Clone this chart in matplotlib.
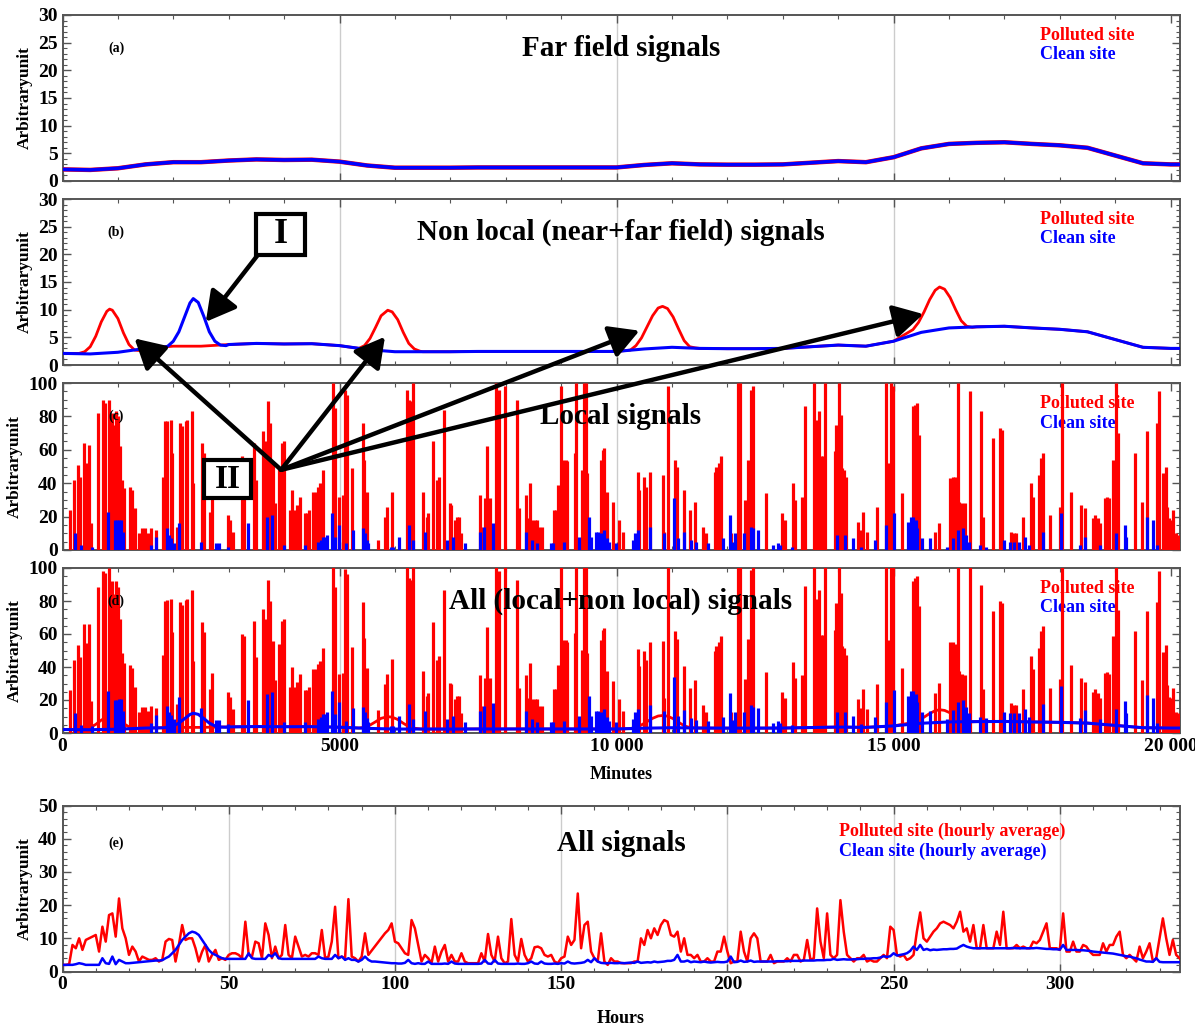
import numpy as np
import matplotlib
matplotlib.use('Agg')
import matplotlib.pyplot as plt
from matplotlib.ticker import MultipleLocator, FuncFormatter
from matplotlib.patches import Rectangle

plt.rcParams['font.family'] = ['Liberation Serif', 'DejaVu Serif']
plt.rcParams['font.weight'] = 'bold'

RED = '#ff0000'
BLUE = '#0000ff'

# ---------------- far field signal (minutes) ----------------
far_min = [0, 500, 1000, 1500, 2000, 2500, 3000, 3500, 4000, 4500, 5000, 5500, 6000,
           6500, 7000, 7500, 8000, 8500, 9000, 9500, 10000, 10500, 11000, 11500, 12000,
           12500, 13000, 13500, 14000, 14500, 15000, 15500, 16000, 16500, 17000, 17500,
           18000, 18500, 19000, 19500, 20000, 20160]
far_val = [2.1, 2.0, 2.3, 3.0, 3.4, 3.4, 3.7, 3.9, 3.8, 3.85, 3.5, 2.8, 2.4,
           2.4, 2.4, 2.45, 2.45, 2.45, 2.45, 2.45, 2.45, 2.9, 3.2, 3.0, 2.95,
           2.95, 3.0, 3.3, 3.6, 3.4, 4.3, 5.9, 6.7, 6.9, 7.0, 6.7,
           6.45, 6.0, 4.6, 3.2, 3.0, 3.0]

# ---------------- near field bumps (total values) ----------------
red_bump1_min = [300, 400, 500, 600, 700, 800, 850, 900, 1000, 1100, 1200, 1300, 1400]
red_bump1_val = [2.1, 2.4, 3.3, 5.2, 7.8, 9.7, 10.1, 9.9, 8.4, 5.8, 3.7, 2.7, 2.6]
red_bump2_min = [5350, 5450, 5550, 5650, 5750, 5870, 5950, 6050, 6150, 6250, 6350, 6450]
red_bump2_val = [3.0, 3.5, 4.8, 6.8, 8.9, 9.9, 9.6, 8.2, 5.9, 3.9, 2.9, 2.5]
red_bump3_min = [10250, 10350, 10450, 10550, 10650, 10750, 10830, 10920, 11020, 11120, 11220, 11320, 11420]
red_bump3_val = [2.7, 3.5, 4.9, 6.9, 8.9, 10.3, 10.6, 10.2, 8.7, 6.5, 4.4, 3.3, 3.1]
red_bump4_min = [15250, 15350, 15450, 15550, 15650, 15750, 15830, 15920, 16020, 16120, 16220, 16320, 16420]
red_bump4_val = [5.8, 6.4, 7.7, 9.6, 11.8, 13.5, 14.1, 13.7, 12.2, 10.0, 8.0, 7.0, 6.8]
blue_bump_min = [1800, 1900, 2000, 2100, 2200, 2300, 2360, 2450, 2550, 2650, 2750, 2850, 2950]
blue_bump_val = [3.1, 3.4, 4.3, 6.0, 8.6, 11.2, 12.0, 11.3, 8.8, 6.0, 4.3, 3.6, 3.5]

# ---------------- local spikes ----------------
red_spike_min = [
    139, 199, 278, 320, 381, 423, 483, 514, 640, 725, 761, 834, 894, 925, 967, 1003, 1046,
    1076, 1106, 1227, 1257, 1305, 1378, 1438, 1487, 1547, 1590, 1680,
    1813, 1849, 1891, 1952, 1982, 2073, 2115, 2151, 2224, 2254, 2333, 2363,
    2526, 2556, 2659, 2707, 2979, 3022, 3070, 3239, 3282, 3463, 3493,
    3626, 3656, 3717, 3747, 3795, 3844, 3916, 3964, 3994,
    4097, 4139, 4188, 4230, 4279, 4369, 4411, 4448, 4520, 4569, 4611, 4653, 4701,
    4883, 4913, 4992, 5064, 5107, 5137, 5234, 5415, 5439, 5500, 5699, 5820, 5850, 5941,
    6213, 6261, 6286, 6322, 6514, 6575, 6605,
    6684, 6757, 6787, 6890, 6986, 7017, 7089, 7119, 7155, 7192,
    7530, 7554, 7633, 7663, 7711, 7832, 7874, 7995, 8206, 8237,
    8357, 8400, 8436, 8478, 8520, 8569, 8599, 8659,
    8871, 8901, 8949, 9004, 9040, 9082, 9112, 9245, 9275,
    9384, 9414, 9445, 9475, 9716, 9747, 9777, 9825, 9928, 10049, 10109,
    10381, 10411, 10502, 10532, 10610, 10834, 10864, 10924, 11063, 11094,
    11226, 11317, 11408, 11559, 11619, 11770, 11800, 11843, 11891, 12060,
    12193, 12223, 12314, 12374, 12404, 12434, 12465, 12706, 12978, 13038,
    13189, 13219, 13345, 13400,
    13555, 13586, 13598, 13646, 13694, 13718, 13767,
    13936, 13966, 13996, 14020, 14051, 14069, 14099, 14147,
    14359, 14401, 14449, 14522, 14703, 14866, 14902, 14945, 14987, 15144,
    15349, 15386, 15428, 15458, 15748, 15820,
    16020, 16074, 16110, 16165, 16183, 16231, 16285, 16382, 16575, 16606,
    16787, 16926, 16956, 17119, 17167, 17210, 17330,
    17487, 17524, 17632, 17663, 17705, 17814, 17995, 18031, 18206,
    18375, 18460, 18599, 18641, 18689, 18732, 18810, 18859, 18889,
    18961, 19022, 19058, 19354, 19475, 19565, 19758, 19795,
    19867, 19909, 19927, 19964, 20000, 20048, 20097, 20127]
red_spike_val = [
    24, 42, 51, 44, 64, 52, 63, 16, 82, 90, 88, 90, 82, 75, 83, 80, 62,
    42, 37, 38, 36, 25, 10, 13, 13, 10, 13, 12,
    44, 77, 77, 78, 58, 14, 76, 74, 77, 78, 83, 40,
    64, 58, 23, 33, 21, 18, 11, 56, 55, 64, 42,
    71, 65, 89, 76, 52, 28, 50, 64, 65,
    24, 36, 24, 27, 32, 22, 22, 24, 35, 35, 38, 40, 48,
    100, 85, 32, 33, 96, 93, 49, 76, 54, 35, 6, 20, 26, 35,
    96, 90, 89, 100, 35, 20, 22,
    65, 42, 44, 84, 28, 27, 18, 20, 20, 10,
    33, 14, 31, 62, 31, 100, 96, 98, 90, 25,
    33, 19, 40, 18, 18, 18, 14, 14,
    24, 24, 39, 98, 54, 54, 53, 58, 100,
    48, 100, 100, 46, 54, 60, 61, 35, 29, 18, 11,
    47, 36, 44, 38, 47, 45, 11, 98, 54, 50,
    36, 24, 29, 14, 10, 47, 50, 52, 56, 10,
    100, 100, 30, 54, 44, 96, 98, 34, 22, 18,
    40, 30, 32, 86,
    100, 52, 78, 83, 56, 56, 100,
    59, 75, 61, 100, 81, 49, 48, 44,
    17, 12, 23, 11, 26, 100, 52, 100, 98, 34,
    86, 87, 88, 69, 11, 16,
    43, 44, 44, 100, 29, 28, 28, 95, 83, 20,
    67, 73, 72, 11, 10, 10, 20,
    40, 32, 45, 55, 58, 21, 26, 100, 35,
    27, 25, 19, 21, 19, 16, 31, 32, 31,
    54, 100, 70, 58, 29, 71, 76, 95,
    46, 50, 26, 19, 18, 24, 10, 9]

blue_spike_min = [
    230, 330, 540, 822, 950, 975, 1022, 1052, 1094,
    1590, 1680, 1891, 1921, 1952, 2012, 2097, 2496, 2768, 2816, 2979,
    3354, 3699, 3777, 4000, 4369, 4611, 4659, 4701, 4731, 4774,
    4871, 4913, 4992, 5125, 5252, 5427, 5457, 5487, 5518, 5923, 5971, 6080, 6250, 6334, 6546,
    6938, 7047, 7270, 7530, 7602, 7772, 8357, 8478, 8569, 8810, 8859, 9052, 9324,
    9505, 9535, 9626, 9668, 9716, 9777, 9825, 9867, 9988, 10290, 10333, 10381, 10610,
    10864, 11045, 11105, 11214, 11347, 11426, 11650, 11921, 12042, 12102, 12145,
    12302, 12422, 12465, 12555, 12827, 12918, 12948, 13159,
    13978, 14117, 14262, 14419, 14661, 14866, 15005, 15265, 15307, 15349, 15398, 15428,
    15506, 15657, 15971, 16074, 16165, 16255, 16304, 16352, 16557, 16666,
    16986, 17101, 17180, 17270, 17379, 17439, 17705, 18025, 18357, 18460, 18732,
    19010, 19173, 19191, 19577, 19674, 19746]
blue_spike_val = [
    10, 3, 2, 23, 18, 18, 18, 18, 11,
    3, 8, 13, 9, 7, 4, 16, 5, 4, 4, 2,
    16, 20, 21, 3, 3, 5, 6, 8, 8, 9,
    22, 8, 15, 4, 12, 13, 10, 6, 4, 2, 2, 8, 15, 6, 11,
    6, 8, 4, 11, 14, 16, 11, 6, 4, 4, 4, 5, 8,
    20, 8, 11, 11, 10, 12, 7, 5, 4, 6, 10, 12, 14,
    10, 31, 7, 11, 6, 5, 4, 7, 21, 5, 10,
    10, 14, 13, 12, 3, 4, 3, 2,
    9, 9, 7, 2, 6, 15, 22, 17, 20, 20, 18, 13,
    7, 7, 2, 7, 12, 13, 9, 5, 3, 2,
    6, 5, 5, 5, 8, 3, 11, 22, 3, 8, 3,
    10, 15, 8, 20, 18, 3]

# ---------------- hourly averages ----------------
red_hourly = [
    2.0, 2.0, 2.2, 8.0, 7.0, 10.0, 6.5, 9.5, 10.0, 10.5, 11.0,
    6.0, 13.5, 9.0, 17.0, 17.5, 10.5, 22.0, 13.0, 10.0, 5.0,
    7.5, 6.0, 3.0, 4.5, 4.0, 3.5, 3.5, 4.0, 3.0, 3.5,
    9.0, 9.8, 9.5, 3.0, 8.0, 14.0, 9.5, 10.0, 10.0, 7.0,
    3.0, 6.0, 8.0, 3.0, 5.0, 6.5, 3.5, 4.0, 3.5, 5.0,
    5.5, 5.5, 5.0, 4.0, 15.0, 5.0, 4.5, 9.0, 8.5, 4.0,
    14.5, 11.0, 4.0, 7.5, 4.0, 5.0, 14.0, 5.0, 4.0, 10.5,
    7.5, 4.5, 5.0, 4.5, 5.5, 5.5, 5.0, 12.5, 4.0, 4.5,
    9.0, 19.5, 4.0, 4.5, 4.0, 21.8, 4.5, 4.0, 3.0, 4.5,
    11.5, 5.0, 6.3, 7.6, 8.9, 10.2, 11.5, 12.5, 14.5, 9.0,
    8.5, 7.0, 5.5, 5.0, 15.5, 13.0, 8.0, 3.0, 5.0, 4.0,
    2.5, 7.5, 3.0, 6.0, 8.0, 3.0, 5.0, 3.0, 3.0, 5.5,
    3.0, 2.5, 2.5, 2.5, 2.5, 5.5, 3.0, 11.3, 5.0, 3.0,
    10.5, 4.0, 2.5, 3.0, 15.8, 5.0, 3.0, 9.8, 5.0, 3.0,
    4.0, 7.3, 7.5, 7.0, 5.0, 4.5, 5.0, 3.0, 2.5, 4.0,
    4.5, 10.5, 8.0, 9.5, 23.5, 7.0, 14.0, 15.0, 6.0, 4.0,
    3.0, 11.5, 3.0, 2.0, 4.0, 3.0, 3.0, 2.5, 2.5, 2.5,
    2.5, 3.0, 3.0, 10.0, 8.0, 12.5, 10.0, 13.0, 11.0, 14.0,
    15.5, 15.0, 11.0, 10.5, 12.0, 6.0, 10.0, 5.0, 5.0, 4.0,
    5.0, 3.0, 3.0, 4.0, 3.0, 3.0, 6.0, 6.0, 10.5, 6.0,
    2.5, 3.0, 3.0, 12.0, 6.0, 3.0, 10.0, 11.5, 10.0, 3.0,
    3.0, 3.0, 5.0, 2.5, 3.0, 3.0, 3.0, 4.0, 3.0, 5.0,
    5.0, 3.0, 3.5, 9.5, 3.5, 4.0, 19.0, 9.0, 4.0, 17.5,
    5.0, 4.0, 5.0, 21.5, 12.0, 5.0, 4.0, 3.0, 4.0, 4.0,
    5.0, 3.0, 3.5, 3.0, 3.0, 4.0, 5.0, 4.0, 13.5, 12.5,
    5.0, 4.5, 5.0, 3.5, 4.0, 5.0, 12.0, 17.8, 10.0, 9.0,
    10.5, 12.0, 13.0, 14.5, 15.0, 14.5, 14.0, 13.0, 15.0, 18.0,
    12.0, 13.0, 9.0, 14.0, 7.0, 7.0, 14.0, 7.0, 7.0, 7.0,
    12.0, 8.0, 18.0, 7.0, 7.0, 7.0, 8.0, 7.0, 7.5, 7.0,
    7.0, 9.0, 8.5, 9.5, 12.0, 14.5, 7.0, 7.0, 7.0, 6.5,
    17.5, 6.0, 6.0, 9.0, 6.0, 6.0, 8.0, 7.5, 6.0, 5.0,
    5.0, 5.0, 8.5, 6.0, 8.0, 8.0, 10.5, 12.0, 5.0, 4.0,
    5.0, 4.0, 3.0, 7.5, 4.0, 6.0, 8.5, 3.0, 4.0, 10.0,
    16.0, 10.0, 5.0, 9.5, 5.0, 4.0]
blue_hourly = [
    2.0, 2.0, 2.0, 2.0, 2.2, 2.5, 2.3, 2.0, 2.0, 2.0, 2.0,
    2.0, 4.0, 2.5, 2.3, 4.5, 2.2, 3.5, 3.0, 2.5, 2.5,
    2.6, 2.7, 2.8, 2.9, 3.0, 3.1, 3.2, 3.3, 3.3, 3.4,
    4.0, 4.5, 5.5, 6.5, 8.0, 9.5, 10.5, 11.5, 12.0, 11.7,
    11.0, 9.5, 8.0, 6.5, 5.5, 5.0, 4.5, 4.0, 3.8, 3.8,
    3.8, 3.8, 3.8, 3.8, 3.8, 5.5, 4.0, 3.8, 3.8, 3.8,
    3.8, 5.0, 4.5, 5.5, 4.0, 3.8, 3.8, 3.8, 3.8, 3.8,
    3.8, 3.8, 3.8, 3.8, 3.8, 3.8, 4.5, 4.0, 3.8, 3.8,
    3.8, 5.0, 4.0, 4.5, 3.5, 4.0, 3.5, 3.5, 3.0, 3.5,
    4.5, 3.5, 3.0, 3.0, 2.9, 2.8, 2.7, 2.6, 2.5, 2.5,
    2.4, 2.4, 2.6, 3.5, 2.5, 2.3, 2.5, 2.3, 2.3, 3.0,
    2.3, 2.3, 2.3, 2.3, 2.4, 2.3, 3.0, 2.4, 2.3, 2.3,
    2.3, 2.3, 2.3, 2.3, 2.3, 2.4, 3.5, 2.4, 2.3, 3.5,
    2.4, 2.3, 2.3, 2.3, 2.3, 2.3, 2.4, 2.3, 2.3, 2.5,
    3.0, 2.4, 2.3, 3.0, 2.4, 2.3, 2.3, 2.4, 2.3, 2.5,
    2.4, 3.0, 2.5, 2.4, 2.5, 2.6, 2.8, 3.5, 2.8, 4.0,
    3.0, 2.6, 2.5, 2.5, 2.6, 2.5, 2.5, 2.6, 2.5, 2.6,
    2.7, 2.6, 3.0, 2.6, 2.7, 2.8, 2.7, 3.0, 2.8, 2.9,
    3.0, 3.2, 3.2, 3.5, 5.0, 3.0, 3.0, 3.3, 2.8, 3.0,
    2.9, 2.8, 3.0, 2.8, 2.7, 2.8, 2.9, 2.8, 2.8, 3.0,
    4.5, 2.8, 2.9, 3.3, 2.9, 3.0, 3.3, 2.9, 3.0, 3.0,
    3.0, 3.0, 3.0, 3.0, 3.1, 3.1, 3.1, 3.1, 3.2, 3.2,
    3.2, 3.2, 3.3, 3.3, 3.3, 3.3, 3.4, 3.4, 3.4, 3.5,
    3.5, 3.8, 3.5, 3.6, 3.7, 3.6, 3.6, 3.7, 3.7, 3.8,
    3.8, 3.9, 3.9, 4.0, 4.0, 4.2, 4.6, 4.4, 4.6, 5.5,
    4.8, 5.0, 5.2, 5.5, 6.2, 7.5, 6.5, 8.0, 6.5, 6.8,
    6.4, 6.6, 6.5, 6.6, 6.7, 6.7, 6.8, 6.8, 6.9, 7.5,
    8.0, 7.5, 7.2, 7.0, 7.0, 7.0, 7.0, 7.0, 7.0, 7.0,
    7.0, 7.0, 7.0, 7.0, 7.0, 7.1, 7.0, 7.0, 7.0, 7.0,
    7.0, 7.0, 7.1, 7.0, 6.9, 6.8, 6.8, 6.7, 6.7, 6.6,
    8.0, 6.5, 6.5, 6.5, 6.5, 6.4, 6.4, 6.3, 6.2, 6.0,
    5.9, 5.8, 5.7, 5.6, 5.5, 5.4, 5.2, 5.0, 4.8, 4.6,
    4.5, 4.2, 4.0, 3.6, 3.3, 3.0, 3.0, 2.9, 4.0, 2.9,
    2.8, 2.8, 2.8, 2.8, 2.8, 2.8]
hours = np.arange(len(red_hourly))


def merge(base_x, base_y, segments):
    pts = list(zip(base_x, base_y))
    for sx, sy in segments:
        pts = [p for p in pts if p[0] < sx[0] or p[0] > sx[-1]] + list(zip(sx, sy))
        pts.sort()
    return np.array([p[0] for p in pts], float), np.array([p[1] for p in pts], float)


red_b_x, red_b_y = merge(far_min, far_val, [(red_bump1_min, red_bump1_val), (red_bump2_min, red_bump2_val),
                                            (red_bump3_min, red_bump3_val), (red_bump4_min, red_bump4_val)])
blue_b_x, blue_b_y = merge(far_min, far_val, [(blue_bump_min, blue_bump_val)])

# ---------------- figure ----------------
W_PX, H_PX = 1195, 1025
fig = plt.figure(figsize=(W_PX / 100, H_PX / 100), dpi=100)
LEFT, RIGHT = 62.5, 1179.5


def add_ax(top, bottom):
    return fig.add_axes([LEFT / W_PX, 1 - bottom / H_PX, (RIGHT - LEFT) / W_PX, (bottom - top) / H_PX])


def fmt_min(v, pos):
    v = int(round(v))
    return f'{v:,}'.replace(',', ' ') if v >= 10000 else str(v)


def style(ax, xmaj, xmin, ymaj, ymin, xlim, ylim, labels_x, grid):
    ax.set_xlim(*xlim)
    ax.set_ylim(*ylim)
    ax.xaxis.set_major_locator(MultipleLocator(xmaj))
    ax.xaxis.set_minor_locator(MultipleLocator(xmin))
    ax.yaxis.set_major_locator(MultipleLocator(ymaj))
    ax.yaxis.set_minor_locator(MultipleLocator(ymin))
    ax.tick_params(which='both', direction='in', top=True, right=True, colors='#555555',
                   labelcolor='black', labelsize=14)
    ax.tick_params(which='major', length=6, width=1.0)
    ax.tick_params(which='minor', length=3, width=0.8)
    for s in ax.spines.values():
        s.set_color('#555555')
        s.set_linewidth(1.4)
    if not labels_x:
        ax.tick_params(labelbottom=False)
    for g in grid:
        ax.axvline(g, color='#cccccc', lw=1.0, zorder=0)
    ax.set_ylabel('Arbitraryunit', fontsize=12.5, fontweight='bold', labelpad=4)


def texts(ax, tag, title, ty, leg_x=0.875, leg_y=(0.875, 0.76), legs=('Polluted site', 'Clean site'), legsize=13):
    ax.text(0.048, ty, tag, transform=ax.transAxes, fontsize=10, ha='center', va='center', zorder=30)
    ax.text(0.5, ty, title, transform=ax.transAxes, fontsize=21, ha='center', va='center', zorder=30)
    ax.text(leg_x, leg_y[0], legs[0], transform=ax.transAxes, fontsize=legsize, color=RED,
            ha='left', va='center', zorder=1)
    ax.text(leg_x, leg_y[1], legs[1], transform=ax.transAxes, fontsize=legsize, color=BLUE,
            ha='left', va='center', zorder=1)


grid_min = [5000, 10000, 15000]
XL = (0, 20160)

ax_a = add_ax(15, 181)
ax_b = add_ax(199, 365)
ax_c = add_ax(383, 550)
ax_d = add_ax(568, 733)
ax_e = add_ax(805.5, 971.5)

# (a)
style(ax_a, 5000, 1000, 5, 1, XL, (0, 30), False, grid_min)
ax_a.plot(far_min, far_val, color=RED, lw=3.2, zorder=3)
ax_a.plot(far_min, far_val, color=BLUE, lw=2.6, zorder=4)
texts(ax_a, '(a)', 'Far field signals', 0.8)

# (b)
style(ax_b, 5000, 1000, 5, 1, XL, (0, 30), False, grid_min)
ax_b.plot(red_b_x, red_b_y, color=RED, lw=2.0, zorder=3)
ax_b.plot(blue_b_x, blue_b_y, color=BLUE, lw=2.2, zorder=4)
texts(ax_b, '(b)', 'Non local (near+far field) signals', 0.8)

# (c)
style(ax_c, 5000, 1000, 20, 5, XL, (0, 100), False, grid_min)
ax_c.vlines(red_spike_min, 0, red_spike_val, color=RED, lw=2.3, zorder=3)
ax_c.vlines(blue_spike_min, 0, blue_spike_val, color=BLUE, lw=2.3, zorder=4)
texts(ax_c, '(c)', 'Local signals', 0.8)

# (d)
style(ax_d, 5000, 1000, 20, 5, XL, (0, 100), True, grid_min)
rs = np.array(red_spike_min, float)
bs = np.array(blue_spike_min, float)
ax_d.vlines(rs, 0, np.array(red_spike_val) + np.interp(rs, red_b_x, red_b_y), color=RED, lw=2.3, zorder=3)
ax_d.plot(red_b_x, red_b_y, color=RED, lw=2.0, zorder=4)
ax_d.vlines(bs, 0, np.array(blue_spike_val) + np.interp(bs, blue_b_x, blue_b_y), color=BLUE, lw=2.3, zorder=5)
ax_d.plot(blue_b_x, blue_b_y, color=BLUE, lw=2.2, zorder=6)
ax_d.xaxis.set_major_formatter(FuncFormatter(fmt_min))
ax_d.set_xlabel('Minutes', fontsize=13, fontweight='bold', labelpad=8)
texts(ax_d, '(d)', 'All (local+non local) signals', 0.8)

# (e)
style(ax_e, 50, 10, 10, 2, (0, 336), (0, 50), True, [50, 100, 150, 200, 250, 300])
ax_e.plot(hours, red_hourly, color=RED, lw=1.8, zorder=3)
ax_e.plot(hours, blue_hourly, color=BLUE, lw=1.8, zorder=4)
ax_e.set_xlabel('Hours', fontsize=13, fontweight='bold', labelpad=12)
texts(ax_e, '(e)', 'All signals', 0.77, leg_x=0.695, leg_y=(0.847, 0.724),
      legs=('Polluted site (hourly average)', 'Clean site (hourly average)'))

# ---------------- annotations ----------------
arrow_kw = dict(arrowstyle='-|>,head_length=0.9,head_width=0.5', lw=3.2, color='black',
                mutation_scale=20, shrinkA=0, shrinkB=0)

# Box I
ax_b.add_patch(Rectangle((3500, 19.9), 870, 7.4, facecolor='white', edgecolor='black', lw=3,
                         zorder=40, clip_on=False))
ax_b.text(3935, 23.6, 'I', fontsize=26, ha='center', va='center', zorder=41)
ax_b.annotate('', xy=(2587, 7.8), xytext=(3526, 19.9), arrowprops=arrow_kw, zorder=39,
              annotation_clip=False)

# Box II and arrows
ax_c.add_patch(Rectangle((2556, 31), 847, 23, facecolor='white', edgecolor='black', lw=3,
                         zorder=40, clip_on=False))
ax_c.text(2980, 42.5, 'II', fontsize=24, ha='center', va='center', zorder=41)
src = (3946, 48)
for tip in [(1300, 4.8), (5820, 5.1), (10413, 6.2), (15537, 9.2)]:
    ax_c.annotate('', xy=tip, xycoords=ax_b.transData, xytext=src, textcoords='data',
                  arrowprops=arrow_kw, zorder=45, annotation_clip=False)

fig.savefig('out.png', dpi=100)
